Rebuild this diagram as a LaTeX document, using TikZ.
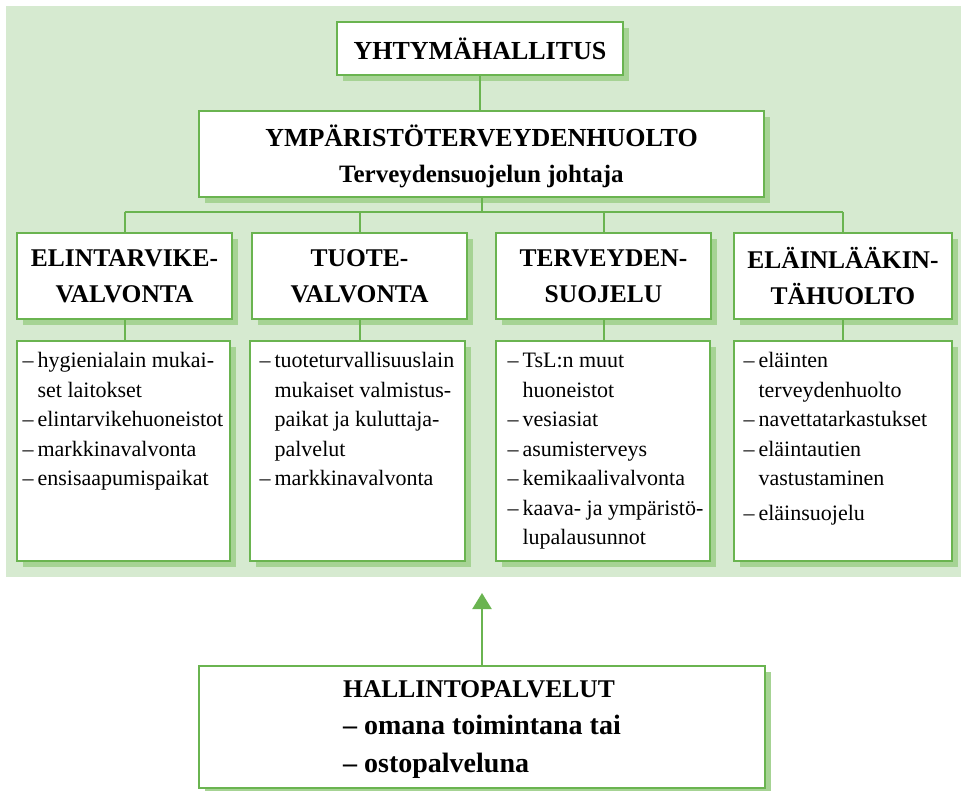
\documentclass[tikz,border=0pt]{standalone}
\usepackage{fontspec}
\setmainfont{Liberation Serif}
\usetikzlibrary{shadows,arrows.meta}
\definecolor{bggreen}{RGB}{214,234,208}
\definecolor{linegreen}{RGB}{106,180,80}
\definecolor{shadegreen}{RGB}{166,211,148}
\begin{document}
\begin{tikzpicture}[x=1pt,y=-1pt,
  box/.style={draw=linegreen, line width=1.2pt, fill=white, inner sep=0pt,
    drop shadow={shadow xshift=6pt, shadow yshift=-6pt, fill=shadegreen, opacity=1}},
  conn/.style={draw=linegreen, line width=2pt},
  lvltwo/.style={box, minimum width=215pt, minimum height=86pt, align=center,
    font=\fontsize{25.5}{36}\selectfont\bfseries},
  lvlthree/.style={box, minimum height=220pt},
  bodytext/.style={anchor=north west, inner sep=0pt, font=\fontsize{22}{29.5}\selectfont},
  ]
\useasboundingbox (0,0) rectangle (961,790);
\fill[bggreen] (6,6) rectangle (961,577);

\node[box, minimum width=286pt, minimum height=53pt, font=\fontsize{26}{30}\selectfont\bfseries] (yht) at (480,48.5) {YHTYMÄHALLITUS};

\node[box, minimum width=565pt, minimum height=86pt, font=\fontsize{25}{36}\selectfont\bfseries] (ymp) at (481.5,154)
  {\begin{tabular}{@{}c@{}}\rule{0pt}{31pt}{\fontsize{26}{36}\selectfont YMPÄRISTÖTERVEYDENHUOLTO}\\ Terveydensuojelun johtaja\end{tabular}};

\node[lvltwo] (l2a) at (124.5,276) {ELINTARVIKE-\\VALVONTA};
\node[lvltwo] (l2b) at (359.5,276) {TUOTE-\\VALVONTA};
\node[lvltwo] (l2c) at (603.5,276) {TERVEYDEN-\\SUOJELU};
\node[lvltwo, minimum width=218pt] (l2d) at (843,276) {ELÄINLÄÄKIN-\\TÄHUOLTO};

\node[lvlthree, minimum width=213pt] (b1) at (123.5,451) {};
\node[lvlthree, minimum width=215pt] (b2) at (357.5,451) {};
\node[lvlthree, minimum width=214pt] (b3) at (603,451) {};
\node[lvlthree, minimum width=218pt] (b4) at (843,451) {};

\node[bodytext] (t1) at ([xshift=6pt,yshift=-6.4pt]b1.north west)
  {\begin{tabular}{@{}l@{\hspace{4pt}}l@{}}–&hygienialain mukai-\\ &set laitokset\\ –&elintarvikehuoneistot\\ –&markkinavalvonta\\ –&ensisaapumispaikat\end{tabular}};
\node[bodytext] (t2) at ([xshift=10pt,yshift=-6.4pt]b2.north west)
  {\begin{tabular}{@{}l@{\hspace{4pt}}l@{}}–&tuoteturvallisuuslain\\ &mukaiset valmistus-\\ &paikat ja kuluttaja-\\ &palvelut\\ –&markkinavalvonta\end{tabular}};
\node[bodytext] (t3) at ([xshift=12pt,yshift=-6.4pt]b3.north west)
  {\begin{tabular}{@{}l@{\hspace{4pt}}l@{}}–&TsL:n muut\\ &huoneistot\\ –&vesiasiat\\ –&asumisterveys\\ –&kemikaalivalvonta\\ –&kaava- ja ympäristö-\\ &lupalausunnot\end{tabular}};
\node[bodytext] (t4) at ([xshift=10pt,yshift=-6.4pt]b4.north west)
  {\begin{tabular}{@{}l@{\hspace{4pt}}l@{}}–&eläinten\\ &terveydenhuolto\\ –&navettatarkastukset\\ –&eläintautien\\ &vastustaminen\\[5pt] –&eläinsuojelu\end{tabular}};

\node[box, minimum width=566pt, minimum height=122pt, font=\fontsize{28}{37.5}\selectfont\bfseries] (bot) at (482,727)
  {\begin{tabular}{@{}l@{}}{\fontsize{25.5}{37.5}\selectfont HALLINTOPALVELUT}\\ – omana toimintana tai\\ – ostopalveluna\end{tabular}};

% connectors
\coordinate (busy) at (0,212);
\coordinate (atip) at (482,593);
\draw[conn] (yht.south) -- (yht.south |- ymp.north);
\draw[conn] (ymp.south) -- (ymp.south |- busy);
\draw[conn] (l2a.north |- busy) -- (l2d.north |- busy);
\foreach \n in {l2a,l2b,l2c,l2d} {\draw[conn] (\n.north |- busy) -- (\n.north);}
\draw[conn] (l2a.south) -- (l2a.south |- b1.north);
\draw[conn] (l2b.south) -- (l2b.south |- b2.north);
\draw[conn] (l2c.south) -- (l2c.south |- b3.north);
\draw[conn] (l2d.south) -- (l2d.south |- b4.north);
\draw[conn, line width=2.2pt, -{Triangle[width=19pt,length=16pt]}] (bot.north -| atip) -- (atip);
\end{tikzpicture}
\end{document}
